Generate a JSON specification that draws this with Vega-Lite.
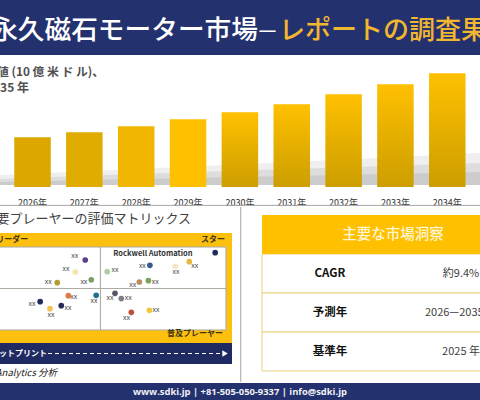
{
  "$schema": "https://vega.github.io/schema/vega-lite/v6.json",
  "padding": 0,
  "background": "white",
  "spacing": 0,
  "resolve": {"scale": {"color": "independent"}},
  "config": {
    "view": {"stroke": null},
    "font": "Noto Sans CJK JP",
    "concat": {"spacing": 0}
  },
  "datasets": {
    "bars": [
      {"year": 2026, "value": 49.7},
      {"year": 2027, "value": 54.7},
      {"year": 2028, "value": 60.7},
      {"year": 2029, "value": 67.7},
      {"year": 2030, "value": 74.7},
      {"year": 2031, "value": 82.7},
      {"year": 2032, "value": 92.7},
      {"year": 2033, "value": 102.7},
      {"year": 2034, "value": 113.7}
    ],
    "shadow": [
      {"year": 2025.373, "base": 2, "s1": 12, "s2": 8, "s3": 5},
      {"year": 2028, "base": 2, "s1": 18, "s2": 13, "s3": 8},
      {"year": 2031, "base": 2, "s1": 25, "s2": 18, "s3": 11},
      {"year": 2034.631, "base": 2, "s1": 34, "s2": 24, "s3": 15}
    ],
    "players": [
      {"player": "P01", "x": 43.96, "y": 84.3, "lx": 39.8, "ly": 89.2},
      {"player": "P02", "x": 39.97, "y": 69.9, "lx": 36.3, "ly": 73.5},
      {"player": "P03", "x": 46.35, "y": 60.6, "lx": 43.4, "ly": 57.8},
      {"player": "P04", "x": 32.8, "y": 57.0, "lx": 29.2, "ly": 57.8},
      {"player": "P05", "x": 37.2, "y": 41.4, "lx": 39.4, "ly": 39.8},
      {"player": "P06", "x": 48.3, "y": 41.8, "lx": 47.4, "ly": 34.9},
      {"player": "P07", "x": 26.0, "y": 34.1, "lx": 22.7, "ly": 31.3},
      {"player": "P08", "x": 29.9, "y": 25.7, "lx": 30.3, "ly": 17.7},
      {"player": "P09", "x": 34.4, "y": 29.3, "lx": 37.1, "ly": 26.5},
      {"player": "P10", "x": 85.4, "y": 82.3, "lx": 87.6, "ly": 77.1},
      {"player": "P11", "x": 79.8, "y": 76.7, "lx": 80.1, "ly": 70.3},
      {"player": "P12", "x": 69.7, "y": 77.9, "lx": 66.7, "ly": 77.1},
      {"player": "P13", "x": 52.7, "y": 70.3, "lx": 55.8, "ly": 72.3},
      {"player": "P14", "x": 65.5, "y": 57.8, "lx": 62.9, "ly": 54.2},
      {"player": "P15", "x": 69.1, "y": 59.4, "lx": 71.8, "ly": 57.8},
      {"player": "P16", "x": 55.8, "y": 44.2, "lx": 53.8, "ly": 38.6},
      {"player": "P17", "x": 58.3, "y": 37.8, "lx": 61.1, "ly": 38.6},
      {"player": "P18", "x": 62.3, "y": 21.3, "lx": 60.4, "ly": 14.5},
      {"player": "P19", "x": 69.5, "y": 23.7, "lx": 72.1, "ly": 24.1},
      {"player": "Rockwell Automation", "x": 95.7, "y": 93.2}
    ],
    "quadrants": [
      {"x0": 0, "x1": 50, "y0": 50, "y1": 100},
      {"x0": 50, "x1": 100, "y0": 50, "y1": 100},
      {"x0": 0, "x1": 50, "y0": 0, "y1": 50},
      {"x0": 50, "x1": 100, "y0": 0, "y1": 50}
    ],
    "table": [
      {"row": "CAGR", "col": "項目", "text": "CAGR"},
      {"row": "予測年", "col": "項目", "text": "予測年"},
      {"row": "基準年", "col": "項目", "text": "基準年"},
      {"row": "CAGR", "col": "値", "text": "約9.4%"},
      {"row": "予測年", "col": "値", "text": "2026—2035 年"},
      {"row": "基準年", "col": "値", "text": "2025 年"}
    ]
  },
  "vconcat": [
    {
      "width": 480,
      "height": 55,
      "view": {"fill": "#24316F"},
      "data": {"values": [{"a": "永久磁石モーター市場", "b": "—", "c": "レポートの調査果"}]},
      "layer": [
        {"mark": {"type": "text", "align": "right", "baseline": "middle", "fontSize": 26.7, "fontWeight": 500, "dx": 18, "dy": 3, "color": "#FFFFFF", "clip": true}, "encoding": {"text": {"field": "a"}}},
        {"mark": {"type": "text", "align": "center", "baseline": "middle", "fontSize": 20, "fontWeight": 500, "dx": 27.5, "dy": 3, "color": "#FFFFFF", "clip": true}, "encoding": {"text": {"field": "b"}}},
        {"mark": {"type": "text", "align": "left", "baseline": "middle", "fontSize": 26, "fontWeight": 500, "dx": 39, "dy": 3, "color": "#F0B72F", "clip": true}, "encoding": {"text": {"field": "c"}}}
      ]
    },
    {
      "width": 480,
      "height": 151,
      "layer": [
        {
          "data": {"name": "shadow"},
          "mark": {"type": "area", "color": "#8C8C8C", "opacity": 0.14},
          "encoding": {
            "x": {"field": "year", "type": "quantitative", "scale": {"domain": [2025.373, 2034.631], "nice": false, "zero": false, "padding": 0}, "axis": null},
            "y": {"field": "s1", "type": "quantitative", "scale": {"domain": [0, 132], "range": [132, 0], "nice": false}, "axis": null},
            "y2": {"field": "base"}
          }
        },
        {
          "data": {"name": "shadow"},
          "mark": {"type": "area", "color": "#8C8C8C", "opacity": 0.18},
          "encoding": {
            "x": {"field": "year", "type": "quantitative"},
            "y": {"field": "s2", "type": "quantitative"},
            "y2": {"field": "base"}
          }
        },
        {
          "data": {"name": "shadow"},
          "mark": {"type": "area", "color": "#8C8C8C", "opacity": 0.2},
          "encoding": {
            "x": {"field": "year", "type": "quantitative"},
            "y": {"field": "s3", "type": "quantitative"},
            "y2": {"field": "base"}
          }
        },
        {
          "data": {"name": "bars"},
          "transform": [{"filter": "datum.year <= 2029"}],
          "mark": {"type": "bar", "size": 36.5},
          "encoding": {
            "x": {"field": "year", "type": "quantitative"},
            "y": {"field": "value", "type": "quantitative"},
            "color": {
              "field": "year",
              "type": "nominal",
              "legend": null,
              "scale": {"domain": [2026, 2027, 2028, 2029], "range": ["#DCA800", "#E0AC00", "#F1B700", "#FFC000"]}
            }
          }
        },
        {
          "data": {"name": "bars"},
          "transform": [{"filter": "datum.year > 2029"}],
          "mark": {
            "type": "bar",
            "size": 36.5,
            "color": {
              "gradient": "linear",
              "x1": 0, "y1": 0, "x2": 0, "y2": 1,
              "stops": [{"offset": 0, "color": "#FFC000"}, {"offset": 1, "color": "#CC9E00"}]
            }
          },
          "encoding": {
            "x": {"field": "year", "type": "quantitative"},
            "y": {"field": "value", "type": "quantitative"}
          }
        },
        {
          "data": {"name": "bars"},
          "transform": [{"calculate": "datum.year + '年'", "as": "label"}],
          "mark": {"type": "text", "fontSize": 9, "dy": 15.5, "baseline": "middle", "color": "#333333", "clip": true},
          "encoding": {
            "x": {"field": "year", "type": "quantitative"},
            "y": {"datum": 0, "type": "quantitative"},
            "text": {"field": "label"}
          }
        },
        {
          "data": {"values": [{"t": "市場価値 (10 億 米 ド ル)、"}]},
          "mark": {"type": "text", "align": "right", "baseline": "middle", "fontSize": 11.8, "fontWeight": "bold", "dx": -136, "dy": -58.5, "color": "#505050", "clip": true},
          "encoding": {"text": {"field": "t"}}
        },
        {
          "data": {"values": [{"t": "2026-2035 年"}]},
          "mark": {"type": "text", "align": "right", "baseline": "middle", "fontSize": 12, "fontWeight": "bold", "dx": -211, "dy": -43, "color": "#505050", "clip": true},
          "encoding": {"text": {"field": "t"}}
        },
        {
          "data": {"values": [{"line": -18.4}]},
          "mark": {"type": "rule", "color": "#A6A6A6", "clip": true},
          "encoding": {"y": {"field": "line", "type": "quantitative"}}
        }
      ]
    },
    {
      "resolve": {"scale": {"color": "independent"}},
      "hconcat": [
        {
          "vconcat": [
            {
              "width": 232,
              "height": 26,
              "data": {"values": [{"t": "主要プレーヤーの評価マトリックス"}]},
              "mark": {"type": "text", "align": "right", "baseline": "middle", "fontSize": 13, "dx": 75, "dy": -1, "color": "#404040", "clip": true},
              "encoding": {"text": {"field": "t"}}
            },
            {
              "width": 232,
              "height": 110,
              "view": {"fill": "#FDC00F"},
              "layer": [
                {
                  "data": {"name": "quadrants"},
                  "mark": {"type": "rect", "fill": "#FFFFFF", "stroke": "#ABABA0", "strokeWidth": 1, "clip": true},
                  "encoding": {
                    "x": {"field": "x0", "type": "quantitative", "scale": {"domain": [10, 102.4], "nice": false, "zero": false, "padding": 0}, "axis": null},
                    "x2": {"field": "x1"},
                    "y": {"field": "y0", "type": "quantitative", "scale": {"domain": [-15.7, 116.9], "nice": false, "zero": false, "padding": 0}, "axis": null},
                    "y2": {"field": "y1"}
                  }
                },
                {
                  "data": {"name": "players"},
                  "transform": [{"filter": "isValid(datum.lx)"}],
                  "mark": {"type": "text", "fontSize": 7, "baseline": "middle", "color": "#404040"},
                  "encoding": {
                    "x": {"field": "lx", "type": "quantitative"},
                    "y": {"field": "ly", "type": "quantitative"},
                    "text": {"value": "xx"}
                  }
                },
                {
                  "data": {"name": "players"},
                  "mark": {"type": "point", "filled": true, "size": 32, "opacity": 1},
                  "encoding": {
                    "x": {"field": "x", "type": "quantitative"},
                    "y": {"field": "y", "type": "quantitative"},
                    "color": {
                      "field": "player",
                      "type": "nominal",
                      "legend": null,
                      "scale": {
                        "domain": ["P01", "P02", "P03", "P04", "P05", "P06", "P07", "P08", "P09", "P10", "P11", "P12", "P13", "P14", "P15", "P16", "P17", "P18", "P19", "Rockwell Automation"],
                        "range": ["#5B3F8A", "#F3E5B0", "#7F9A63", "#B59A2D", "#E07B3F", "#1F6F8F", "#1F2A5C", "#F2C14E", "#232A55", "#E5B93E", "#F1E6C0", "#3A5A8C", "#B1CFA7", "#B98A5A", "#7EA25E", "#555566", "#7D7D85", "#C0503A", "#F3C53B", "#1F2E5E"]
                      }
                    }
                  }
                },
                {
                  "data": {"values": [{"t": "Rockwell Automation", "x": 70.9, "y": 92}]},
                  "mark": {"type": "text", "fontSize": 7.5, "fontWeight": "bold", "baseline": "middle", "color": "#333333"},
                  "encoding": {
                    "x": {"field": "x", "type": "quantitative"},
                    "y": {"field": "y", "type": "quantitative"},
                    "text": {"field": "t"}
                  }
                },
                {
                  "data": {"values": [
                    {"t": "リーダー", "x": 21.3, "y": 108.4},
                    {"t": "スター", "x": 99.6, "y": 108.4},
                    {"t": "普及プレーヤー", "x": 98.8, "y": -5.4}
                  ]},
                  "mark": {"type": "text", "fontSize": 8, "fontWeight": "bold", "align": "right", "baseline": "middle", "color": "#3F3510", "clip": true},
                  "encoding": {
                    "x": {"field": "x", "type": "quantitative"},
                    "y": {"field": "y", "type": "quantitative"},
                    "text": {"field": "t"}
                  }
                }
              ]
            },
            {
              "width": 232,
              "height": 21,
              "view": {"fill": "#1F2A63"},
              "layer": [
                {
                  "data": {"values": [{"t": "製品フットプリント"}]},
                  "mark": {"type": "text", "align": "right", "baseline": "middle", "fontSize": 8, "fontWeight": "bold", "dx": -69, "color": "#FFFFFF", "clip": true},
                  "encoding": {"text": {"field": "t"}}
                },
                {
                  "data": {"values": [{"start": 20.7, "end": 96}]},
                  "mark": {"type": "rule", "color": "#FFFFFF", "strokeDash": [4, 3], "strokeWidth": 1},
                  "encoding": {
                    "x": {"field": "start", "type": "quantitative", "scale": {"domain": [0, 100], "nice": false}, "axis": null},
                    "x2": {"field": "end"}
                  }
                },
                {
                  "data": {"values": [{"end": 97}]},
                  "mark": {"type": "point", "shape": "triangle-right", "filled": true, "size": 40, "color": "#FFFFFF", "opacity": 1},
                  "encoding": {"x": {"field": "end", "type": "quantitative"}}
                }
              ]
            },
            {
              "width": 232,
              "height": 18,
              "data": {"values": [{"t": "SDKI Analytics 分析"}]},
              "mark": {"type": "text", "align": "right", "baseline": "middle", "fontSize": 9.5, "fontStyle": "italic", "dx": -59, "color": "#222222", "clip": true},
              "encoding": {"text": {"field": "t"}}
            }
          ]
        },
        {
          "width": 8,
          "height": 175,
          "data": {"values": [{"t": ""}]},
          "mark": {"type": "text"},
          "encoding": {"text": {"field": "t"}}
        },
        {
          "width": 240,
          "height": 175,
          "resolve": {"scale": {"x": "independent"}},
          "layer": [
            {
              "data": {"values": [{"x": -0.08}]},
              "mark": {"type": "rule", "color": "#A6A6A6"},
              "encoding": {"x": {"field": "x", "type": "quantitative", "scale": {"domain": [0, 1], "range": [22, 288], "nice": false, "zero": false}, "axis": null}}
            },
            {
              "data": {"values": [{"row": "CAGR", "a": 0, "b": 1}, {"row": "予測年", "a": 0, "b": 1}, {"row": "基準年", "a": 0, "b": 1}]},
              "mark": {"type": "rect", "fill": "#FFFFFF", "stroke": "#EAD27C", "strokeWidth": 1, "clip": true},
              "encoding": {
                "x": {"field": "a", "type": "quantitative", "scale": {"domain": [0, 1], "range": [22, 288], "nice": false, "zero": false}, "axis": null},
                "x2": {"field": "b"},
                "y": {"field": "row", "type": "nominal", "sort": null, "scale": {"domain": ["主要な市場洞察", "CAGR", "予測年", "基準年"], "range": [8, 164], "paddingInner": 0, "paddingOuter": 0}, "axis": null}
              }
            },
            {
              "data": {"values": [{"row": "主要な市場洞察", "a": 0, "b": 1}]},
              "mark": {"type": "rect", "fill": "#FFC000", "clip": true},
              "encoding": {
                "x": {"field": "a", "type": "quantitative", "scale": {"domain": [0, 1], "range": [22, 288], "nice": false, "zero": false}, "axis": null},
                "x2": {"field": "b"},
                "y": {"field": "row", "type": "nominal", "sort": null}
              }
            },
            {
              "data": {"values": [{"row": "主要な市場洞察"}]},
              "mark": {"type": "text", "fontSize": 14.5, "fontWeight": 500, "dx": 33, "baseline": "middle", "color": "#FFF6D5"},
              "encoding": {
                "y": {"field": "row", "type": "nominal", "sort": null},
                "text": {"field": "row"}
              }
            },
            {
              "data": {"name": "table"},
              "transform": [{"filter": "datum.col === '項目'"}],
              "mark": {"type": "text", "fontSize": 11.5, "fontWeight": "bold", "baseline": "middle", "dx": -30, "color": "#111111"},
              "encoding": {
                "y": {"field": "row", "type": "nominal", "sort": null},
                "text": {"field": "text"}
              }
            },
            {
              "data": {"name": "table"},
              "transform": [{"filter": "datum.col === '値'"}],
              "mark": {"type": "text", "fontSize": 11, "baseline": "middle", "dx": 101, "color": "#404040", "clip": true},
              "encoding": {
                "y": {"field": "row", "type": "nominal", "sort": null},
                "text": {"field": "text"}
              }
            }
          ]
        }
      ]
    },
    {
      "width": 480,
      "height": 18,
      "view": {"fill": "#24316F"},
      "data": {"values": [{"t": "www.sdki.jp | +81-505-050-9337 | info@sdki.jp"}]},
      "mark": {"type": "text", "baseline": "middle", "fontSize": 9.4, "fontWeight": "bold", "font": "Open Sans", "color": "#F0F1F5"},
      "encoding": {"text": {"field": "t"}}
    }
  ]
}
